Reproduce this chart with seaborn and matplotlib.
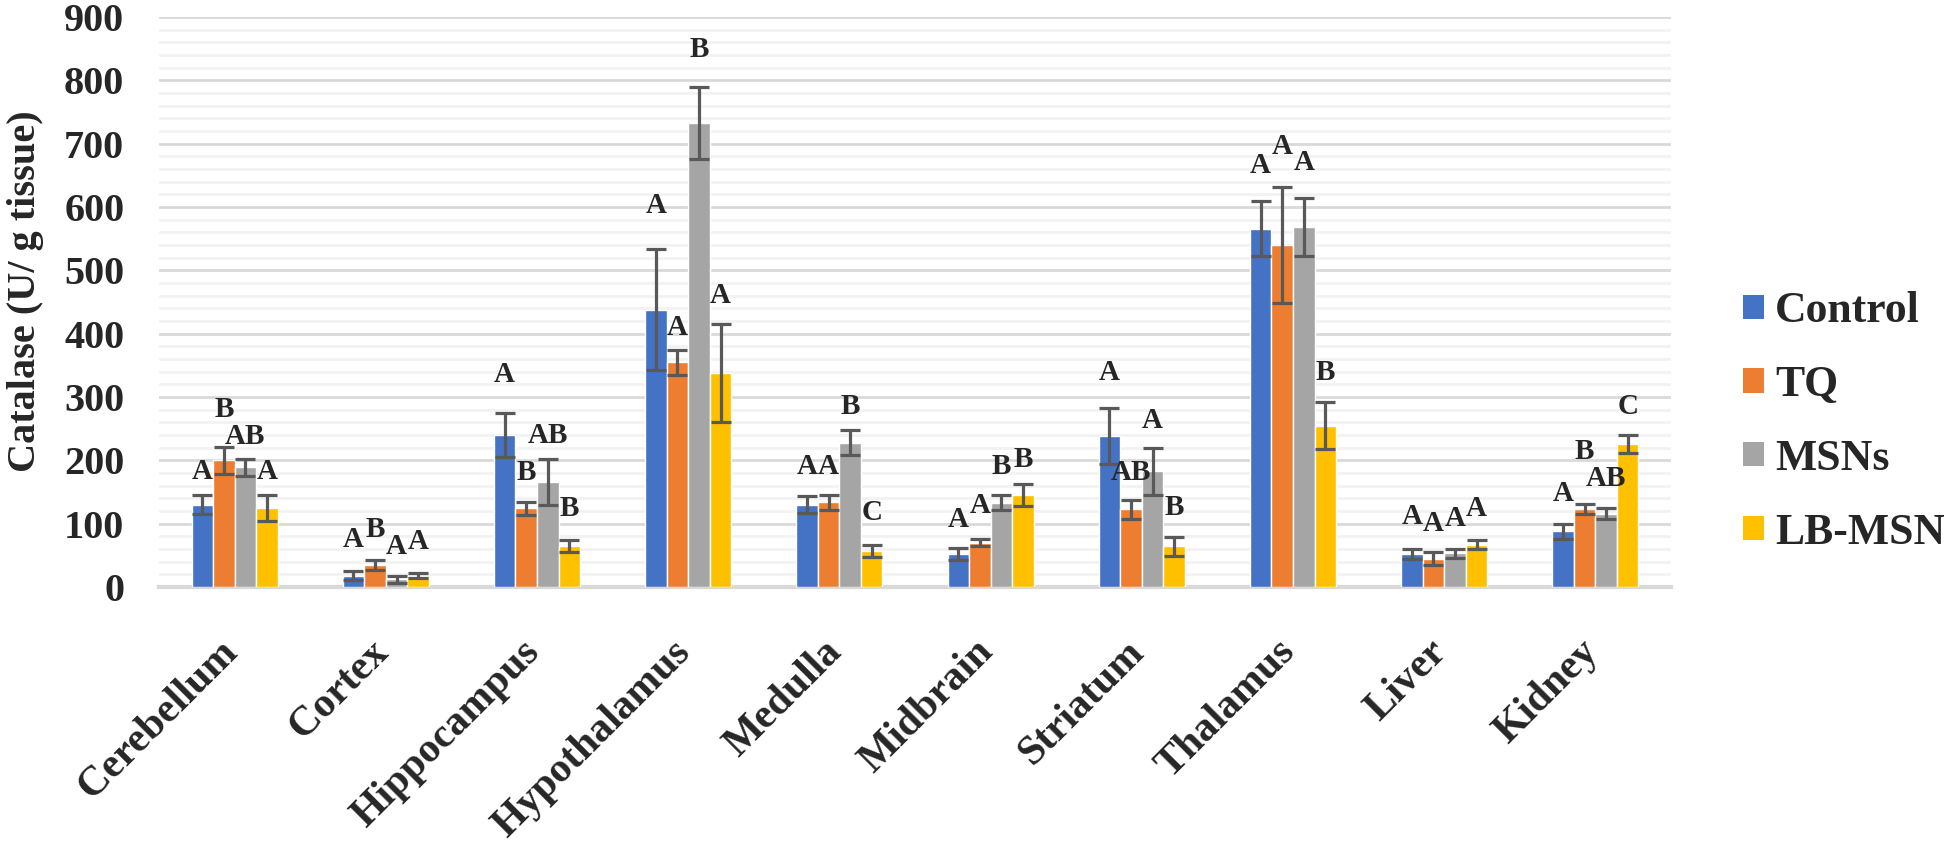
import matplotlib
matplotlib.use("Agg")
import matplotlib.pyplot as plt
from matplotlib.patches import Patch
from matplotlib.ticker import MultipleLocator
from matplotlib.transforms import ScaledTranslation
import pandas as pd
import seaborn as sns

# values (U/g tissue)
tissues = ["Cerebellum", "Cortex", "Hippocampus", "Hypothalamus", "Medulla",
           "Midbrain", "Striatum", "Thalamus", "Liver", "Kidney"]
groups = ["Control", "TQ", "MSNs", "LB-MSN"]

control = [130, 18, 240, 438, 130, 52, 238, 566, 52, 88]
control_err = [15, 7, 35, 96, 13, 10, 44, 44, 8, 12]
tq = [200, 35, 124, 355, 134, 70, 123, 540, 45, 123]
tq_err = [21, 8, 11, 20, 12, 6, 15, 91, 10, 8]
msns = [189, 12, 166, 733, 228, 133, 183, 569, 53, 116]
msns_err = [13, 5, 36, 57, 20, 12, 37, 46, 7, 9]
lbmsn = [125, 18, 65, 338, 57, 145, 64, 255, 67, 226]
lbmsn_err = [21, 4, 10, 78, 10, 17, 15, 37, 7, 14]

# significance letters and the height their centres sit at
control_sig = ["A", "A", "A", "A", "A", "A", "A", "A", "A", "A"]
tq_sig = ["B", "B", "B", "A", "A", "A", "AB", "A", "A", "B"]
msns_sig = ["AB", "A", "AB", "B", "B", "B", "A", "A", "A", "AB"]
lbmsn_sig = ["A", "A", "B", "A", "C", "B", "B", "B", "A", "C"]
control_sig_y = [182, 75, 335, 602, 191, 106, 338, 665, 111, 148]
tq_sig_y = [281, 91, 180, 410, 191, 129, 181, 695, 101, 214]
msns_sig_y = [238, 64, 239, 849, 285, 191, 263, 670, 108, 172]
lbmsn_sig_y = [182, 72, 124, 460, 118, 202, 125, 339, 124, 285]

colors = ["#4472C4", "#ED7D31", "#A5A5A5", "#FFC000"]

values = [control, tq, msns, lbmsn]
errors = [control_err, tq_err, msns_err, lbmsn_err]
sigs = [control_sig, tq_sig, msns_sig, lbmsn_sig]
sig_ys = [control_sig_y, tq_sig_y, msns_sig_y, lbmsn_sig_y]

rows = []
for g, vals in zip(groups, values):
    for t, v in zip(tissues, vals):
        rows.append({"tissue": t, "group": g, "value": v})
df = pd.DataFrame(rows)

sns.set_style("white")
plt.rcParams["font.family"] = ["Liberation Serif", "DejaVu Serif"]
plt.rcParams["font.weight"] = "bold"

fig = plt.figure(figsize=(19.44, 8.49), dpi=100)
ax = fig.add_axes([159 / 1944, 1 - 587 / 849, 1512 / 1944, 570 / 849])

sns.barplot(data=df, x="tissue", y="value", hue="group", order=tissues,
            hue_order=groups, palette=colors, saturation=1, width=0.57,
            gap=0, errorbar=None, legend=False, ax=ax, zorder=3)

for cont, errs, labs, labys in zip(ax.containers, errors, sigs, sig_ys):
    xs = [b.get_x() + b.get_width() / 2 for b in cont]
    ys = [b.get_height() for b in cont]
    ax.errorbar(xs, ys, yerr=errs, fmt="none", ecolor="#595959",
                elinewidth=2.3, capsize=7, capthick=2.3, zorder=4)
    for x, lab, ly in zip(xs, labs, labys):
        ax.text(x, ly, lab, ha="center", va="center", fontsize=21,
                fontweight="bold", zorder=5)

ax.set_xlim(-0.5, len(tissues) - 0.5)
ax.set_ylim(0, 900)
ax.yaxis.set_major_locator(MultipleLocator(100))
ax.yaxis.set_minor_locator(MultipleLocator(20))
ax.grid(axis="y", which="major", color="#D9D9D9", lw=2.0, zorder=0)
ax.grid(axis="y", which="minor", color="#F2F2F2", lw=2.0, zorder=0)
ax.grid(axis="x", visible=False)
for side in ["top", "right", "left"]:
    ax.spines[side].set_visible(False)
ax.spines["bottom"].set_color("#D9D9D9")
ax.spines["bottom"].set_linewidth(3)
ax.tick_params(axis="both", which="both", length=0)
ax.tick_params(axis="y", labelsize=29, pad=25)
ax.tick_params(axis="x", labelsize=30, pad=33)
shift = ScaledTranslation(-12 / 72, 0, fig.dpi_scale_trans)
for lab in ax.get_xticklabels():
    lab.set_rotation(45)
    lab.set_ha("right")
    lab.set_rotation_mode("anchor")
    lab.set_fontweight("bold")
    lab.set_transform(lab.get_transform() + shift)
for lab in ax.get_yticklabels():
    lab.set_fontweight("bold")

ax.set_xlabel("")
ax.set_ylabel("Catalase (U/ g tissue)", fontsize=29, fontweight="bold")
ax.yaxis.set_label_coords(-0.076, 0.519)

handles = [Patch(facecolor=c, edgecolor="none", label=g)
           for c, g in zip(colors, groups)]
fig.legend(handles=handles, loc="center left",
           bbox_to_anchor=(1725 / 1944, 1 - 422 / 849),
           frameon=False, fontsize=31.5, handlelength=0.48, handleheight=0.48,
           handletextpad=0.27, labelspacing=0.77, borderaxespad=0)

fig.savefig("out.png", dpi=100)
